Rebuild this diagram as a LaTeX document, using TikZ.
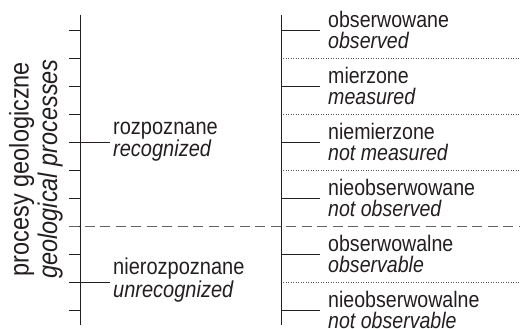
\documentclass[tikz,border=0pt]{standalone}
\usepackage{fontspec}
\setmainfont[FakeStretch=0.87]{Liberation Sans}
\newcommand\twolines[3]{\vtop{\baselineskip=#1\lineskiplimit=-100pt\relax\hbox{#2}\hbox{\itshape #3}}}
\definecolor{ink}{HTML}{231F20}
\begin{document}
\begin{tikzpicture}[x=1pt,y=-1pt,
  ln/.style={line width=1pt, draw=ink},
  dotln/.style={line width=0.8pt, draw=ink!75, dash pattern=on 0.8pt off 1.7pt},
  dashln/.style={line width=1.5pt, draw=ink!70, dash pattern=on 10pt off 5.5pt},
  rlab/.style={anchor=base west, inner sep=0pt, text=ink, font=\fontsize{22.5}{21}\selectfont},
  mlab/.style={anchor=base west, inner sep=0pt, text=ink, font=\fontsize{23}{22.5}\selectfont},
  vlab/.style={anchor=center, inner sep=0pt, text=ink, rotate=90, align=center, font=\fontsize{27}{28.5}\selectfont}]
\useasboundingbox (0,0) rectangle (520,329);
% main axes
\coordinate (Ltop) at (80,15);
\coordinate (Lbot) at (80,325);
\coordinate (Rtop) at (281,15);
\coordinate (Rbot) at (281,325);
\draw[ln] (Ltop) -- (Lbot);
\draw[ln] (Rtop) -- (Rbot);
% left ticks
\foreach \k in {0,...,10}{
  \coordinate (t\k) at (80,{31+27.9*\k});
  \draw[ln] (t\k) -- ++(-11,0);
}
% extended ticks to middle labels
\coordinate (m1) at (110,{31+27.9*4});
\coordinate (m2) at (110,{31+27.9*9});
\draw[ln] (t4) -- (m1);
\draw[ln] (t9) -- (m2);
% right branches
\foreach \k in {0,2,4,6,8,10}{
  \coordinate (r\k) at (281,{31+27.9*\k});
  \coordinate (re\k) at (320,{31+27.9*\k});
  \draw[ln] (r\k) -- (re\k);
}
% dotted separators
\foreach \k in {1,3,5,9}{
  \coordinate (d\k) at (283,{31+27.9*\k});
  \coordinate (de\k) at (520,{31+27.9*\k});
  \draw[dotln] (d\k) -- (de\k);
}
% dashed separator
\coordinate (ds) at (69,{31+27.9*7});
\coordinate (de) at (520,{31+27.9*7});
\draw[dashln] (ds) -- (de);
% vertical title
\node[vlab] (title) at (36,169) {procesy geologiczne\\\textit{geological processes}};
% middle labels
\node[mlab] (rec) at (113,{31+27.9*4-8.5}) {\twolines{22.5pt}{rozpoznane}{recognized}};
\node[mlab] (unrec) at (113,{31+27.9*9-7.5}) {\twolines{22.5pt}{nierozpoznane}{unrecognized}};
% right labels
\node[rlab] (obs) at (328,{31+27.9*0-3}) {\twolines{21pt}{obserwowane}{observed}};
\node[rlab] (mea) at (328,{31+27.9*2-3}) {\twolines{21pt}{mierzone}{measured}};
\node[rlab] (nmea) at (328,{31+27.9*4-3}) {\twolines{21pt}{niemierzone}{not measured}};
\node[rlab] (nobs) at (328,{31+27.9*6-3}) {\twolines{21pt}{nieobserwowane}{not observed}};
\node[rlab] (obsl) at (328,{31+27.9*8-3}) {\twolines{21pt}{obserwowalne}{observable}};
\node[rlab] (nobsl) at (328,{31+27.9*10-3}) {\twolines{21pt}{nieobserwowalne}{not observable}};
\end{tikzpicture}
\end{document}
